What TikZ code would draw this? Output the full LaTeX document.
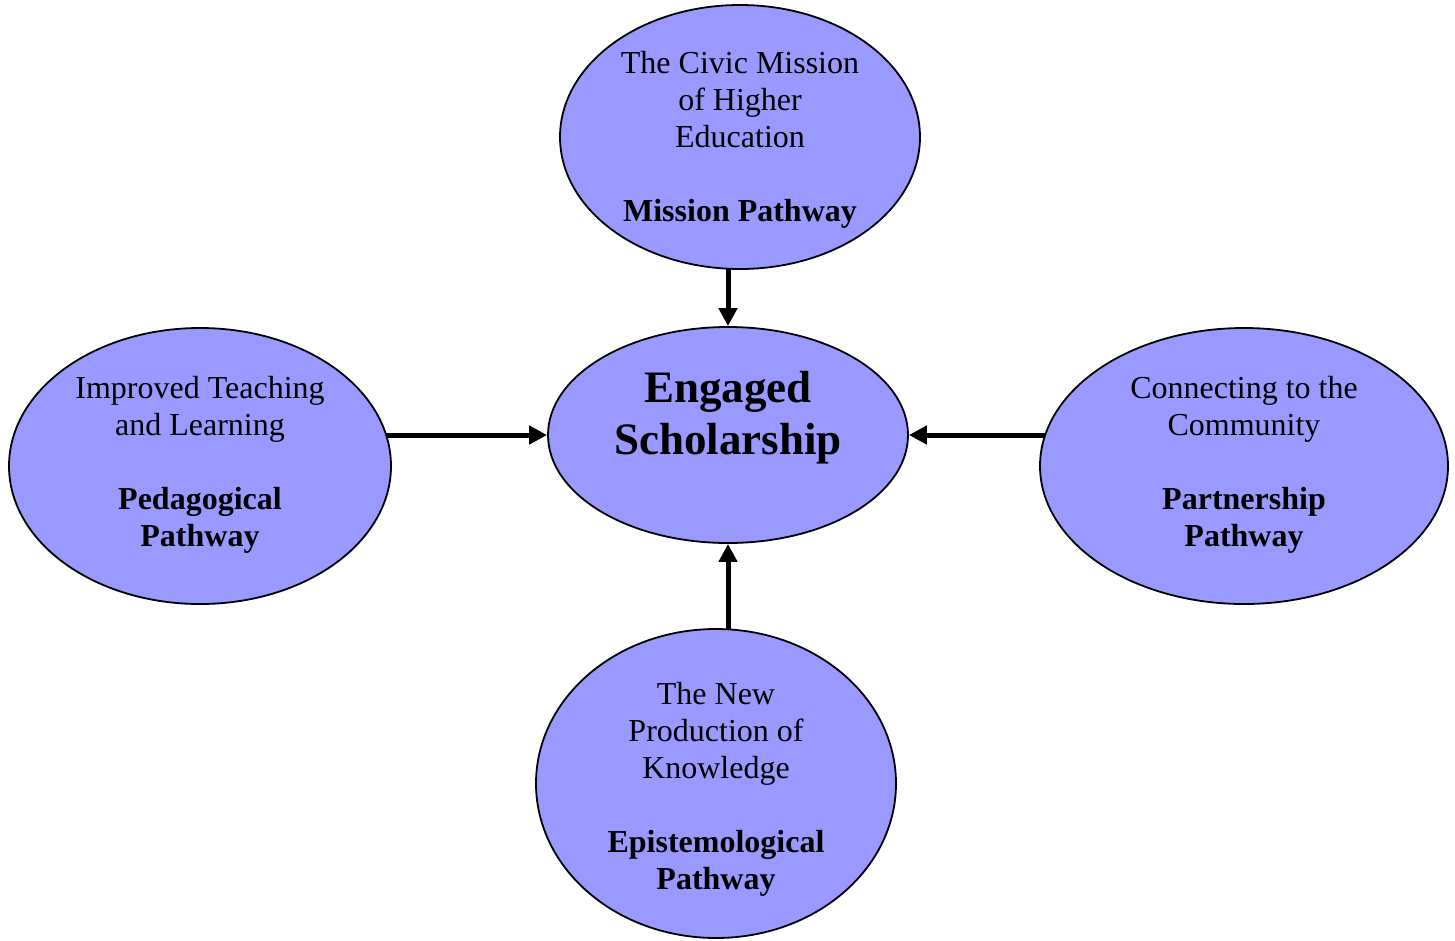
\documentclass[tikz,border=0pt]{standalone}
\usepackage{fontspec}
\setmainfont{Liberation Serif}
\usetikzlibrary{shapes.geometric,arrows.meta,backgrounds}
\definecolor{pathfill}{HTML}{9999FF}
\tikzset{
  pathellipse/.style={ellipse, draw=black, line width=1.8pt, fill=pathfill, inner sep=0pt},
  bodytext/.style={align=center, inner sep=0pt, font=\fontsize{32}{37}\selectfont},
  titletext/.style={align=center, inner sep=0pt, font=\fontsize{45}{52}\selectfont\bfseries},
  flowarrow/.style={line width=5pt, -{Triangle[length=18pt,width=18pt]}}
}
\begin{document}
\begin{tikzpicture}[x=1pt,y=-1pt]
\useasboundingbox (0,0) rectangle (1455,940);

% ellipses
\node[pathellipse, minimum width=360pt, minimum height=264pt] (mission) at (740,137) {};
\node[pathellipse, minimum width=360pt, minimum height=216pt] (core) at (728,435) {};
\node[pathellipse, minimum width=382pt, minimum height=276pt] (pedagogy) at (200,466) {};
\node[pathellipse, minimum width=408pt, minimum height=276pt] (partner) at (1244,466) {};
\node[pathellipse, minimum width=360pt, minimum height=309pt] (episteme) at (716,783.5) {};

% labels
\node[bodytext] (missiontxt) at (740,140) {The Civic Mission\\of Higher\\Education\\[37pt]\textbf{Mission Pathway}};
\node[titletext] (coretxt) at (728,418) {Engaged\\Scholarship};
\node[bodytext] (pedagogytxt) at (200,465) {Improved Teaching\\and Learning\\[37pt]\textbf{Pedagogical}\\\textbf{Pathway}};
\node[bodytext] (partnertxt) at (1244,465) {Connecting to the\\Community\\[37pt]\textbf{Partnership}\\\textbf{Pathway}};
\node[bodytext] (epistemetxt) at (716,789) {The New\\Production of\\Knowledge\\[37pt]\textbf{Epistemological}\\\textbf{Pathway}};

% connectors, drawn behind the ellipses so they start at the outer rims
\begin{scope}[on background layer]
\draw[flowarrow] (core.north |- mission.center) -- (core.north);
\draw[flowarrow] (pedagogy.center |- core.west) -- (core.west);
\draw[flowarrow] (partner.center |- core.east) -- (core.east);
\draw[flowarrow] (core.south |- episteme.center) -- (core.south);
\end{scope}
\end{tikzpicture}
\end{document}
